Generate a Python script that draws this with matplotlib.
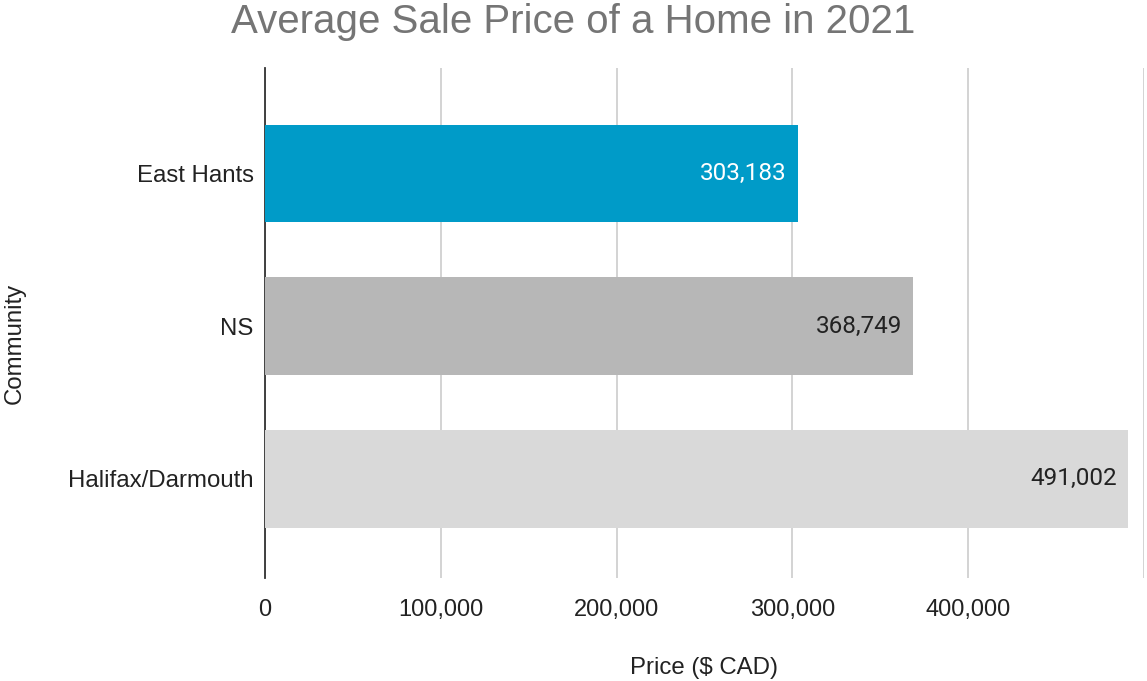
import matplotlib.pyplot as plt
from matplotlib.ticker import FuncFormatter

# data
communities = ["East Hants", "NS", "Halifax/Darmouth"]
prices = [303183, 368749, 491002]
bar_colors = ["#009bc8", "#b7b7b7", "#d9d9d9"]
label_colors = ["#ffffff", "#222222", "#222222"]
x_ticks = [0, 100000, 200000, 300000, 400000, 500000]

plt.rcParams["font.family"] = ["Liberation Sans", "DejaVu Sans"]

fig = plt.figure(figsize=(11.47, 6.81), dpi=100)
ax = fig.add_axes([0.231, 0.151, 0.7664, 0.749])

ypos = list(range(len(communities)))
ax.barh(ypos, prices, height=0.64, color=bar_colors, zorder=3)

for y, v, c in zip(ypos, prices, label_colors):
    ax.annotate(f"{v:,}", xy=(v, y), xytext=(-8, 0), textcoords="offset points",
                ha="right", va="center", fontsize=17.5, color=c,
                family=["Roboto", "DejaVu Sans"], zorder=4)

ax.set_xlim(0, 500000)
ax.set_ylim(2.65, -0.69)
ax.set_yticks(ypos)
ax.set_yticklabels(communities, fontsize=17.3, color="#222222")
ax.set_xticks(x_ticks)
ax.xaxis.set_major_formatter(FuncFormatter(lambda v, p: f"{int(v):,}" if v < 500000 else ""))
ax.tick_params(axis="x", labelsize=17, labelcolor="#222222", length=0, pad=15)
ax.tick_params(axis="y", length=0, pad=8)

ax.grid(axis="x", color="#cccccc", linewidth=1.2, zorder=0)
for s in ["top", "right", "bottom"]:
    ax.spines[s].set_visible(False)
ax.spines["left"].set_color("#333333")
ax.spines["left"].set_linewidth(1.3)
ax.spines["left"].set_zorder(2)

ax.set_xlabel("Price ($ CAD)", fontsize=17.3, color="#222222", labelpad=26)
ax.set_ylabel("Community", fontsize=17.3, color="#222222")
ax.yaxis.set_label_coords(-0.272, 0.46)

fig.text(0.5, 0.968, "Average Sale Price of a Home in 2021", ha="center", va="center",
         fontsize=29, color="#757575")

fig.savefig("out.png", dpi=100, facecolor="white")
